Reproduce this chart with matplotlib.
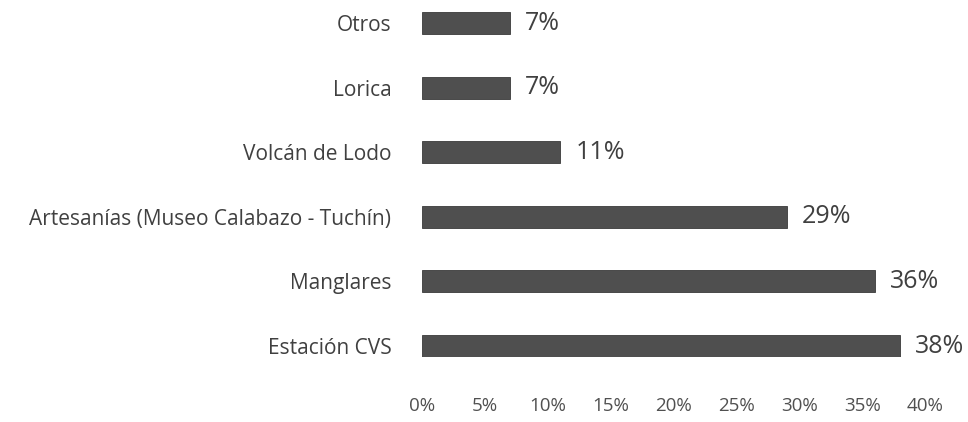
#Horizontal bar chart: sitios visitados (porcentaje)

#Libraries
import matplotlib
matplotlib.use('Agg')
import matplotlib.pyplot as plt
from matplotlib.ticker import FuncFormatter

#Data (bottom to top)
sitios=['Estación CVS','Manglares','Artesanías (Museo Calabazo - Tuchín)','Volcán de Lodo','Lorica','Otros']
porcentajes=[38,36,29,11,7,7]
ticks=[0,5,10,15,20,25,30,35,40]

plt.rcParams['font.family']=['Open Sans','DejaVu Sans']

fig=plt.figure(figsize=(9.68,4.22),dpi=100)
ax=fig.add_axes([0.436,0.154,0.5196,0.8175])

pos=list(range(len(sitios)))
ax.barh(pos,porcentajes,height=0.34,color='#4f4f4f',edgecolor='#3a3a3a',linewidth=0.6)

#Value labels at the end of each bar
for p,v in zip(pos,porcentajes):
	ax.text(v+1.2,p,f'{v}%',va='center',ha='left',fontsize=18,color='#404040',clip_on=False)

ax.set_xlim(0,40)
ax.set_ylim(-0.17,5.17)
ax.set_yticks(pos)
ax.set_yticklabels(sitios,fontsize=15,color='#404040')
ax.set_xticks(ticks)
ax.xaxis.set_major_formatter(FuncFormatter(lambda x,_: f'{int(x)}%'))
ax.tick_params(axis='x',length=0,pad=29,labelsize=13.5,colors='#505050')
ax.tick_params(axis='y',length=0,pad=22)
for s in ax.spines.values():
	s.set_visible(False)

plt.savefig('out.png',dpi=100,facecolor='white')
